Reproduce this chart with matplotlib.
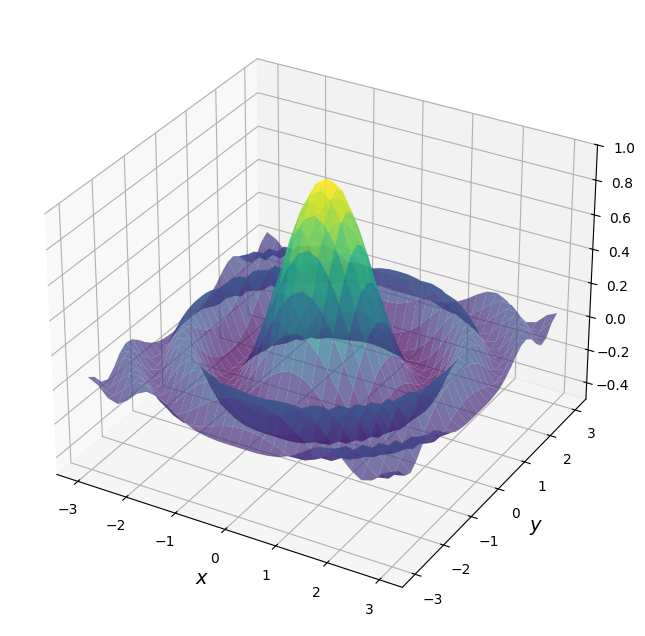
import numpy as np
import matplotlib
matplotlib.use("Agg")
import matplotlib.pyplot as plt

# Surface heights for one quadrant (x, y = 0 to 3), hand-estimated to follow
# the ripple seen in the picture.
axis_values = [-3.0, -2.8, -2.6, -2.4, -2.2, -2.0, -1.8, -1.6, -1.4, -1.2, -1.0, -0.8, -0.6, -0.4, -0.2,
               0.0, 0.2, 0.4, 0.6, 0.8, 1.0, 1.2, 1.4, 1.6, 1.8, 2.0, 2.2, 2.4, 2.6, 2.8, 3.0]
z_row_00 = [1.000, .960, .847, .677, .472, .260, .068, -.085, -.184, -.217, -.164, -.018, .110, .107, -.016, -.091]
z_row_01 = [.960, .922, .812, .645, .446, .240, .054, -.095, -.188, -.217, -.157, -.012, .113, .105, -.020, -.091]
z_row_02 = [.847, .812, .709, .555, .372, .182, .013, -.119, -.199, -.214, -.139, .009, .120, .094, -.034, -.090]
z_row_03 = [.677, .645, .555, .420, .260, .098, -.048, -.154, -.211, -.203, -.108, .042, .127, .073, -.054, -.084]
z_row_04 = [.472, .446, .372, .260, .131, .000, -.112, -.188, -.217, -.178, -.055, .082, .126, .040, -.076, -.073]
z_row_05 = [.260, .240, .182, .098, .000, -.095, -.171, -.212, -.206, -.128, .009, .116, .107, -.007, -.090, -.049]
z_row_06 = [.068, .054, .013, -.048, -.112, -.171, -.208, -.214, -.164, -.048, .076, .128, .064, -.054, -.087, -.015]
z_row_07 = [-.085, -.095, -.119, -.154, -.188, -.212, -.214, -.174, -.080, .042, .122, .105, -.001, -.087, -.063, .027]
z_row_08 = [-.184, -.188, -.199, -.211, -.217, -.206, -.164, -.080, .029, .113, .121, .040, -.064, -.085, -.018, .061]
z_row_09 = [-.217, -.217, -.214, -.203, -.178, -.128, -.048, .042, .113, .124, .059, -.043, -.091, -.049, .036, .069]
z_row_10 = [-.164, -.157, -.139, -.108, -.055, .009, .076, .122, .121, .059, -.034, -.090, -.066, .011, .069, .040]
z_row_11 = [-.018, -.012, .009, .042, .082, .116, .128, .105, .040, -.043, -.090, -.070, -.002, .063, .056, -.017]
z_row_12 = [.110, .113, .120, .127, .126, .107, .064, -.001, -.064, -.091, -.066, -.002, .060, .063, -.001, -.056]
z_row_13 = [.107, .105, .094, .073, .040, -.007, -.054, -.087, -.085, -.049, .011, .063, .063, .005, -.053, -.039]
z_row_14 = [-.016, -.020, -.034, -.054, -.076, -.090, -.087, -.063, -.018, .036, .069, .056, -.001, -.053, -.042, .020]
z_row_15 = [-.091, -.091, -.090, -.084, -.073, -.049, -.015, .027, .061, .069, .040, -.017, -.056, -.039, .020, .049]

quadrant = np.array([z_row_00, z_row_01, z_row_02, z_row_03, z_row_04, z_row_05, z_row_06, z_row_07,
                     z_row_08, z_row_09, z_row_10, z_row_11, z_row_12, z_row_13, z_row_14, z_row_15])
right = np.hstack([quadrant[:, :0:-1], quadrant])
Z = np.vstack([right[:0:-1], right])

X, Y = np.meshgrid(axis_values, axis_values)

fig = plt.figure(figsize=(6.45, 6.36), dpi=100)
ax = fig.add_axes([0.0095, 0.0155, 0.967, 0.967], projection="3d")
ax.plot_surface(X, Y, Z, cmap="viridis", alpha=0.7, rcount=50, ccount=50, linewidth=0)
ax.set_zlim(-0.5, 1.0)
ax.set_xticks([-3, -2, -1, 0, 1, 2, 3])
ax.set_yticks([-3, -2, -1, 0, 1, 2, 3])
ax.set_zticks([-0.4, -0.2, 0.0, 0.2, 0.4, 0.6, 0.8, 1.0])
ax.set_xlabel("$x$", fontsize=14)
ax.set_ylabel("$y$", fontsize=14)
fig.savefig("out.png", dpi=100)
